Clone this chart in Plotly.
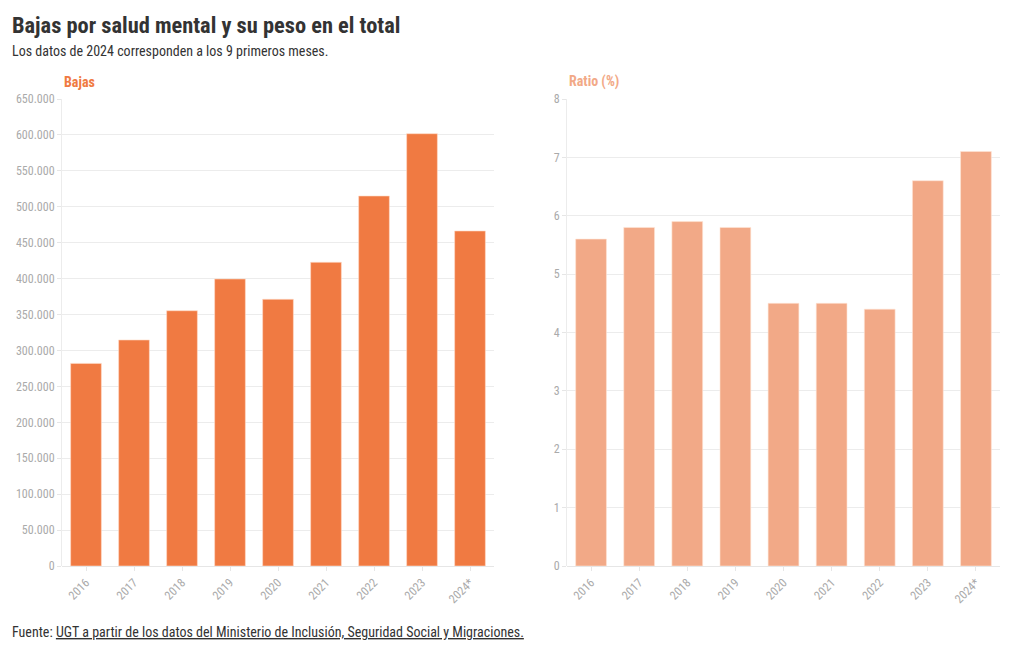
import plotly.graph_objects as go

years = ["2016", "2017", "2018", "2019", "2020", "2021", "2022", "2023", "2024*"]
bajas = [282000, 314600, 355300, 399500, 371200, 422700, 515000, 601700, 466300]
ratio = [5.6, 5.8, 5.9, 5.8, 4.5, 4.5, 4.4, 6.6, 7.1]

title = "Bajas por salud mental y su peso en el total"
subtitle = "Los datos de 2024 corresponden a los 9 primeros meses."
source_label = "Fuente: "
source_text = "UGT a partir de los datos del Ministerio de Inclusión, Seguridad Social y Migraciones."

FONT = "Roboto Condensed, Liberation Sans Narrow, DejaVu Sans Condensed, Roboto, sans-serif"
c1 = "#F07A42"
c2 = "#F2A987"
W, H = 1020, 650
OFF = 8  # page body margin compensation

def px(x):
    return (x - OFF) / W

def py(y):
    return 1 - (y - OFF) / H

fig = go.Figure()
fig.add_trace(go.Bar(x=years, y=bajas, marker=dict(color=c1, line=dict(color="rgba(255,220,200,0.6)", width=1)),
                     xaxis="x", yaxis="y", hovertemplate="%{x}: %{y:,.0f}<extra></extra>"))
fig.add_trace(go.Bar(x=years, y=ratio, marker=dict(color=c2, line=dict(color="rgba(255,230,215,0.6)", width=1)),
                     xaxis="x2", yaxis="y2", hovertemplate="%{x}: %{y}<extra></extra>"))

axis_common = dict(type="category", showgrid=False, showline=False, ticks="outside", ticklen=4, tickcolor="#e6e6e6",
                   tickangle=-45, tickfont=dict(family=FONT, size=12, color="#aaaaaa"), fixedrange=True,
                   automargin=False)
yaxis_common = dict(showgrid=True, gridcolor="#ececec", gridwidth=1, showline=True, linecolor="#ececec",
                    ticks="outside", ticklen=4, tickcolor="#e6e6e6", zeroline=True, zerolinecolor="#e6e6e6",
                    tickfont=dict(family=FONT, size=12, color="#aaaaaa"), fixedrange=True, automargin=False)

fig.update_layout(
    template="none",
    width=W, height=H,
    autosize=False,
    margin=dict(l=0, r=0, t=0, b=0, pad=0),
    paper_bgcolor="white", plot_bgcolor="white",
    showlegend=False,
    separators=",.",
    bargap=0.36,
    font=dict(family=FONT, color="#333333"),
    xaxis=dict(domain=[px(62), px(494)], anchor="y", range=[-0.5, 8.5], **axis_common),
    yaxis=dict(domain=[py(566), py(99)], anchor="x", range=[0, 650000], dtick=50000,
               tickformat=",.0f", **yaxis_common),
    xaxis2=dict(domain=[px(567), px(1000)], anchor="y2", range=[-0.5, 8.5], **axis_common),
    yaxis2=dict(domain=[py(566), py(99)], anchor="x2", range=[0, 8], dtick=1, **yaxis_common),
)

ann = [
    dict(text="<b>" + title + "</b>", x=px(10), y=py(25), xanchor="left", yanchor="middle",
         font=dict(size=22.4, color="#333333", family=FONT)),
    dict(text=subtitle, x=px(10), y=py(51), xanchor="left", yanchor="middle",
         font=dict(size=14, color="#333333", family=FONT)),
    dict(text="<b>Bajas</b>", x=px(62), y=py(82), xanchor="left", yanchor="middle",
         font=dict(size=14, color=c1, family=FONT)),
    dict(text="<b>Ratio (%)</b>", x=px(567), y=py(82), xanchor="left", yanchor="middle",
         font=dict(size=14, color=c2, family=FONT)),
    dict(text=source_label + "<u>" + source_text + "</u>", x=px(10), y=py(632), xanchor="left", yanchor="middle",
         font=dict(size=14, color="#333333", family=FONT)),
]
for a in ann:
    a.update(xref="paper", yref="paper", showarrow=False)
fig.update_layout(annotations=ann)

fig.write_html("out.html")
